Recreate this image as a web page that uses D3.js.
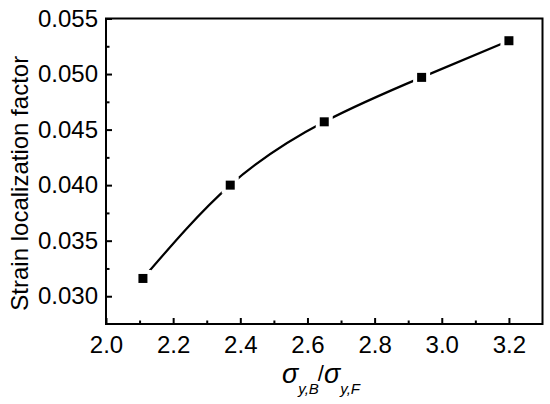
<!DOCTYPE html>
<html>
<head>
<meta charset="utf-8">
<script src="https://cdn.jsdelivr.net/npm/d3@7"></script>
<style>
html,body{margin:0;padding:0;background:#fff;}
svg{display:block;}
text{font-family:"Liberation Sans", Arial, sans-serif;fill:#000;}
</style>
</head>
<body>
<svg id="chart" width="550" height="404"></svg>
<script>
// Data
const ratio = [2.11, 2.37, 2.65, 2.94, 3.20];
const strainFactor = [0.0316, 0.0400, 0.0457, 0.0497, 0.0530];
const xTickValues = [2.0, 2.2, 2.4, 2.6, 2.8, 3.0, 3.2];
const xMinorTicks = [2.1, 2.3, 2.5, 2.7, 2.9, 3.1];
const yTickValues = [0.030, 0.035, 0.040, 0.045, 0.050, 0.055];
const yMinorTicks = [0.0325, 0.0375, 0.0425, 0.0475, 0.0525];
const yLabel = "Strain localization factor";

const svg = d3.select("#chart");
const m = {left:106, top:18.5, right:542.5, bottom:324};

const x = d3.scaleLinear().domain([2.0, 3.3]).range([m.left, m.right]);
const y = d3.scaleLinear().domain([0.0275, 0.055]).range([m.bottom, m.top]);

const data = ratio.map((r,i)=>({x:r, y:strainFactor[i]}));

// curve
const line = d3.line().x(d=>x(d.x)).y(d=>y(d.y)).curve(d3.curveNatural);
svg.append("path").datum(data).attr("d", line)
  .attr("fill","none").attr("stroke","#000").attr("stroke-width",2.2);

// markers with white halo (gap in line)
const mk = svg.append("g");
mk.selectAll("rect.halo").data(data).join("rect").attr("class","halo")
  .attr("x", d=>x(d.x)-8.5).attr("y", d=>y(d.y)-8.5)
  .attr("width",17).attr("height",17).attr("fill","#fff");
mk.selectAll("rect.pt").data(data).join("rect").attr("class","pt")
  .attr("x", d=>x(d.x)-4.5).attr("y", d=>y(d.y)-4.5)
  .attr("width",9).attr("height",9).attr("fill","#000");

// axes
const xAxis = svg.append("g").attr("transform",`translate(0,${m.bottom})`)
  .call(d3.axisBottom(x).tickValues(xTickValues).tickFormat(d3.format(".1f")).tickSizeInner(-6).tickSizeOuter(0).tickPadding(12));
const xMinor = svg.append("g").attr("transform",`translate(0,${m.bottom})`)
  .call(d3.axisBottom(x).tickValues(xMinorTicks).tickFormat("").tickSizeInner(-3.5).tickSizeOuter(0));
const yAxis = svg.append("g").attr("transform",`translate(${m.left},0)`)
  .call(d3.axisLeft(y).tickValues(yTickValues).tickFormat(d3.format(".3f")).tickSizeInner(-6).tickSizeOuter(0).tickPadding(8));
const yMinor = svg.append("g").attr("transform",`translate(${m.left},0)`)
  .call(d3.axisLeft(y).tickValues(yMinorTicks).tickFormat("").tickSizeInner(-3.5).tickSizeOuter(0));

[xAxis,xMinor,yAxis,yMinor].forEach(g=>{
  g.select(".domain").remove();
  g.selectAll(".tick line").attr("stroke","#000").attr("stroke-width",2);
});
xAxis.selectAll(".tick text").attr("font-size",24).attr("font-family","Liberation Sans, Arial, sans-serif").attr("fill","#000");
yAxis.selectAll(".tick text").attr("font-size",24).attr("font-family","Liberation Sans, Arial, sans-serif").attr("fill","#000");

// frame
svg.append("rect").attr("x",m.left).attr("y",m.top)
  .attr("width",m.right-m.left).attr("height",m.bottom-m.top)
  .attr("fill","none").attr("stroke","#000").attr("stroke-width",2);

// y title
svg.append("text").attr("transform",`translate(28,${(m.top+m.bottom)/2+12}) rotate(-90)`)
  .attr("text-anchor","middle").attr("font-size",24).text(yLabel);

// x title: σ_{y,B}/σ_{y,F}
const xt = svg.append("text").attr("x",282).attr("y",383).attr("font-size",27)
  .attr("font-style","italic");
xt.append("tspan").text("σ");
xt.append("tspan").attr("font-size",15).attr("dy",11).text("y,B");
xt.append("tspan").attr("font-size",22).attr("dy",-13).attr("dx",-1).attr("font-style","normal").text("/");
xt.append("tspan").attr("dy",2).text("σ");
xt.append("tspan").attr("font-size",15).attr("dy",11).text("y,F");
</script>
</body>
</html>
